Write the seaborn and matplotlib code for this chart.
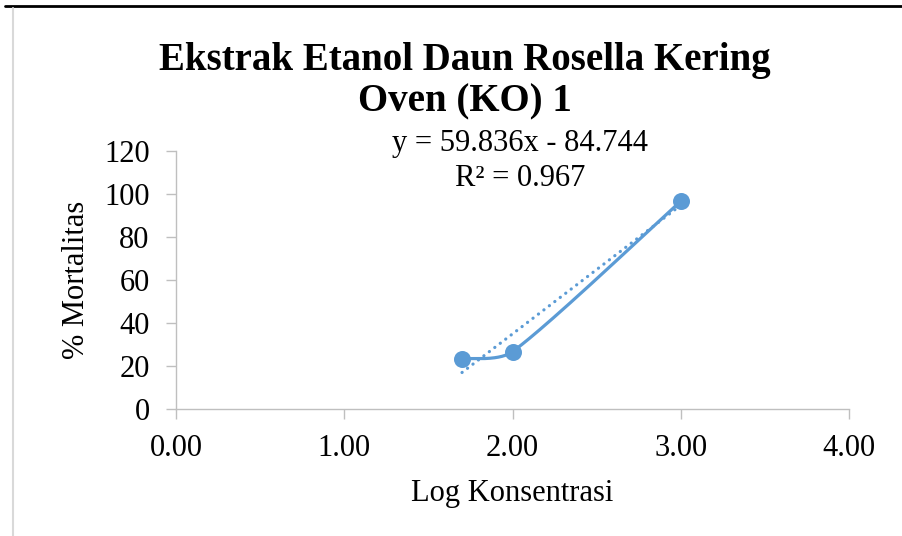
import numpy as np
import matplotlib
matplotlib.use("Agg")
import matplotlib.pyplot as plt
import seaborn as sns
from matplotlib.lines import Line2D

log_konsentrasi = [1.7, 2.0, 3.0]
mortalitas = [23.33, 26.67, 96.67]
x_ticks = [0.0, 1.0, 2.0, 3.0, 4.0]
y_ticks = [0, 20, 40, 60, 80, 100, 120]
title = "Ekstrak Etanol Daun Rosella Kering\nOven (KO) 1"
equation = "y = 59.836x - 84.744"
r_squared = "R² = 0.967"

sns.set_theme(style="white")
plt.rcParams['font.family'] = ['Liberation Serif', 'DejaVu Serif']
plt.rcParams['text.color'] = 'black'

blue = "#5B9BD5"
axis_gray = "#BFBFBF"

fig = plt.figure(figsize=(9.03, 5.36), dpi=100)
ax = fig.add_axes([176/903, 1-409/536, (849-176)/903, (409-151)/536])
ax.set_xlim(0, 4)
ax.set_ylim(0, 120)

x = np.array(log_konsentrasi)
y = np.array(mortalitas)

# Excel-style smoothed line (bezier in display space, limited tangent length)
fig.canvas.draw()
P = ax.transData.transform(np.column_stack([x, y]))
n = len(P)
curve = []
for i in range(n - 1):
    p0 = P[i]
    p3 = P[i + 1]
    L = np.linalg.norm(p3 - p0)
    pm = P[i - 1] if i > 0 else P[i]
    pp = P[i + 2] if i + 2 < n else P[i + 1]
    t0 = (p3 - pm) / 6.0
    t1 = (pp - p0) / 6.0
    if np.linalg.norm(t0) > L / 3.0:
        t0 = t0 / np.linalg.norm(t0) * L / 3.0
    if np.linalg.norm(t1) > L / 3.0:
        t1 = t1 / np.linalg.norm(t1) * L / 3.0
    c1 = p0 + t0
    c2 = p3 - t1
    t = np.linspace(0, 1, 80)[:, None]
    seg = ((1 - t) ** 3) * p0 + 3 * ((1 - t) ** 2) * t * c1 + 3 * (1 - t) * t ** 2 * c2 + t ** 3 * p3
    curve.append(seg)
curve = np.vstack(curve)
curve_data = ax.transData.inverted().transform(curve)
ax.plot(curve_data[:, 0], curve_data[:, 1], color=blue, lw=2.3, solid_capstyle="round", zorder=2)

# linear trendline
slope, intercept = np.polyfit(x, y, 1)
xt = np.array([x.min(), x.max()])
ax.plot(xt, slope * xt + intercept, color=blue, lw=2.3, linestyle=(0, (0.05, 2.1)),
        dash_capstyle="round", zorder=2)

sns.scatterplot(x=x, y=y, ax=ax, color=blue, s=150, edgecolor=blue, linewidth=0, zorder=3)

ax.set_xticks(x_ticks)
ax.set_xticklabels([f"{v:.2f}" for v in x_ticks])
ax.set_yticks(y_ticks)
ax.set_yticklabels([str(v) for v in y_ticks])
ax.tick_params(axis="both", which="both", direction="out", length=7, width=1,
               color=axis_gray, labelsize=22, labelcolor="black",
               bottom=True, left=True)
ax.tick_params(axis="y", pad=12)
ax.tick_params(axis="x", pad=11)
for s in ["top", "right"]:
    ax.spines[s].set_visible(False)
for s in ["left", "bottom"]:
    ax.spines[s].set_color(axis_gray)
    ax.spines[s].set_linewidth(1)
ax.grid(False)
ax.set_facecolor("white")

ax.set_xlabel("Log Konsentrasi", fontsize=22, color="black")
ax.set_ylabel("% Mortalitas", fontsize=22, color="black")
ax.xaxis.set_label_coords((512 - 176) / 673, -(494 - 409) / 258)
ax.yaxis.set_label_coords(-(176 - 76) / 673, (409 - 280) / 258)
ax.xaxis.label.set_va("center")
ax.yaxis.label.set_va("center")

fig.text(465/903, 1 - 81/536, title, ha="center", va="center", fontsize=28,
         fontweight="bold", linespacing=1.15, color="black")

fig.text(520/903, 1 - 143/536, equation, ha="center", va="center", fontsize=22, color="black")
fig.text(520/903, 1 - 179/536, r_squared, ha="center", va="center", fontsize=22, color="black")

# outer borders
fig.add_artist(Line2D([5/903, 1], [1 - 6/536, 1 - 6/536], color="black", lw=2, transform=fig.transFigure))
fig.add_artist(Line2D([13/903, 13/903], [0, 1 - 8/536], color="#D9D9D9", lw=1.5, transform=fig.transFigure))

fig.savefig("out.png", dpi=100)
